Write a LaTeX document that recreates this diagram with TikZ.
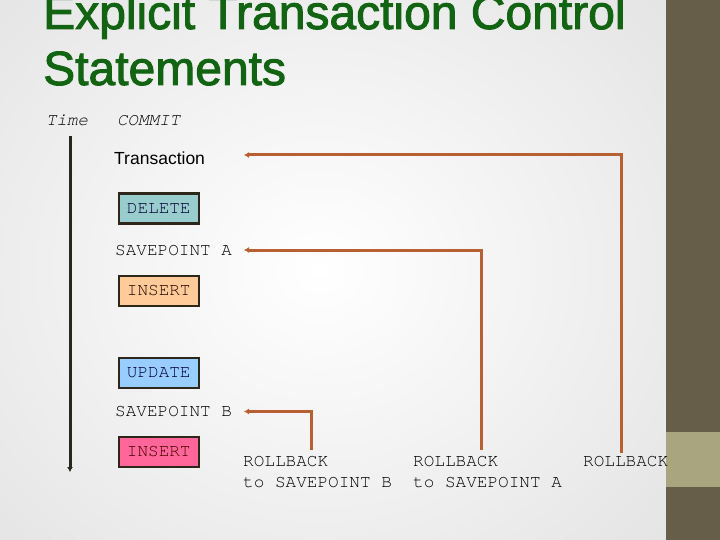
\documentclass[tikz,border=0pt]{standalone}
\usepackage{fontspec}
\setmainfont{Liberation Sans}
\newfontfamily\titlefont[FakeBold=2]{Liberation Sans}
\newfontfamily\monofont{TeX Gyre Cursor}
\usetikzlibrary{arrows.meta,positioning}
\definecolor{titlegreen}{RGB}{18,100,18}
\definecolor{panel}{RGB}{102,94,72}
\definecolor{band}{RGB}{169,165,126}
\definecolor{rbline}{RGB}{185,96,50}
\definecolor{boxedge}{RGB}{45,38,26}
\definecolor{delfill}{RGB}{153,204,204}
\definecolor{insfill}{RGB}{255,204,153}
\definecolor{updfill}{RGB}{153,204,255}
\definecolor{ins2fill}{RGB}{255,102,153}
\definecolor{timeline}{RGB}{40,38,30}
\tikzset{
  stmt/.style={draw=boxedge, line width=2.5pt, minimum width=80pt, minimum height=30pt,
    inner sep=0pt, anchor=north west, font=\monofont\fontsize{17.7}{20}\selectfont},
  mono/.style={inner sep=0pt, anchor=west, font=\monofont\fontsize{17.7}{21}\selectfont, align=left},
  monoit/.style={inner sep=0pt, font=\monofont\itshape\fontsize{17.5}{20}\selectfont},
  rbarrow/.style={draw=rbline, line width=3pt, -{Latex[length=5pt,width=6pt]}},
}
\begin{document}
\begin{tikzpicture}[x=1pt,y=-1pt]
\useasboundingbox (0,0) rectangle (720,540);
% background
\shade[inner color=white, outer color=black!10] (-120,-120) rectangle (760,660);
\fill[panel] (666,0) rectangle (720,540);
\fill[band] (666,432) rectangle (720,487);
% title
\node[anchor=base west, inner sep=0pt, align=left, text=titlegreen,
  font=\titlefont\fontsize{48}{56}\selectfont] (title) at (43,85)
  {Explicit Transaction Control\\Statements};
% time axis
\node[monoit] (time) at (67,120) {Time};
\node[monoit, anchor=west] (commit) at (117,121) {COMMIT};
\coordinate (ttop) at (70,136);
\coordinate (tbot) at (70,472);
\draw[timeline, line width=3pt, -{Latex[length=5pt,width=6pt]}] (ttop) -- (tbot);
% statements
\node[inner sep=0pt, anchor=west, font=\fontsize{17.5}{20}\selectfont] (tx) at (114,158) {Transaction};
\node[stmt, fill=delfill, text=black!80!blue] (del) at (117.5,192.5) {DELETE};
\node[mono] (spa) at (115,251) {SAVEPOINT A};
\node[stmt, fill=insfill, text=black!85!red] (ins1) at (117.5,274.5) {INSERT};
\node[stmt, fill=updfill, text=black!80!blue] (upd) at (117.5,356.5) {UPDATE};
\node[mono] (spb) at (115,412) {SAVEPOINT B};
\node[stmt, fill=ins2fill, text=black!70!red] (ins2) at (117.5,435.5) {INSERT};
% rollback labels
\node[mono, anchor=north west] (rb1) at (243,456.5) {ROLLBACK\\to SAVEPOINT B};
\node[mono, anchor=north west] (rb2) at (413,456.5) {ROLLBACK\\to SAVEPOINT A};
\node[mono, anchor=north west] (rb3) at (583,456.5) {ROLLBACK};
% connectors
\coordinate (s1) at (621.5,453);
\coordinate (s2) at (481.5,450);
\coordinate (s3) at (311.5,450);
\coordinate (e1) at (244,155);
\coordinate (e2) at (244,250);
\coordinate (e3) at (244,411.5);
\draw[rbarrow] (s1) |- (e1);
\draw[rbarrow] (s2) |- (e2);
\draw[rbarrow] (s3) |- (e3);
\end{tikzpicture}
\end{document}
